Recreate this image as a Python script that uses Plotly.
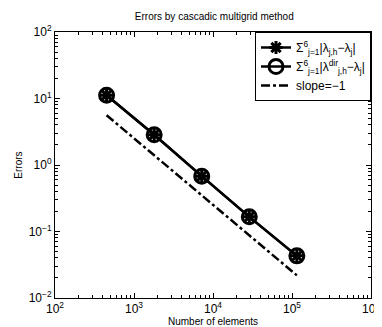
import plotly.graph_objects as go

# number of elements on each refinement level
elements = [450, 1800, 7200, 28800, 115200]
# summed eigenvalue errors (both curves coincide)
err_h = [11.2, 2.85, 0.68, 0.166, 0.043]
err_dir = [11.2, 2.85, 0.68, 0.166, 0.043]
# reference line with slope -1
slope_ref = [5.6, 1.4, 0.35, 0.0875, 0.0219]

x_ticks = [1e2, 1e3, 1e4, 1e5, 1e6]
x_labels = ["10<sup>2</sup>", "10<sup>3</sup>", "10<sup>4</sup>", "10<sup>5</sup>", "10<sup>6</sup>"]
y_ticks = [1e-2, 1e-1, 1e0, 1e1, 1e2]
y_labels = ["10<sup>−2</sup>", "10<sup>−1</sup>", "10<sup>0</sup>", "10<sup>1</sup>", "10<sup>2</sup>"]

font = "Liberation Sans, Arial, sans-serif"

fig = go.Figure()
fig.add_trace(go.Scatter(
    x=elements, y=err_h, mode="lines+markers",
    name="Σ<sup>6</sup><sub>j=1</sub>|λ<sub>j,h</sub>−λ<sub>j</sub>|",
    line=dict(color="black", width=2.5),
    marker=dict(symbol="asterisk-open", size=11, color="black",
                line=dict(color="black", width=3)),
))
fig.add_trace(go.Scatter(
    x=elements, y=err_dir, mode="lines+markers",
    name="Σ<sup>6</sup><sub>j=1</sub>|λ<sup>dir</sup><sub>j,h</sub>−λ<sub>j</sub>|",
    line=dict(color="black", width=2.5),
    marker=dict(symbol="circle-open", size=14, color="black",
                line=dict(color="black", width=3)),
))
fig.add_trace(go.Scatter(
    x=elements, y=slope_ref, mode="lines", name="slope=−1",
    line=dict(color="black", width=2.5, dash="dashdot"),
))

axis_common = dict(
    type="log", showgrid=False, zeroline=False,
    showline=True, linecolor="black", linewidth=1, mirror="ticks",
    ticks="inside", ticklen=5, tickcolor="black",
    minor=dict(ticks="inside", ticklen=3, tickcolor="black", dtick="D1", showgrid=False),
    tickfont=dict(size=12, color="black", family=font),
)

fig.update_xaxes(range=[2, 6], tickvals=x_ticks, ticktext=x_labels,
                 title=dict(text="Number of elements", font=dict(size=10, color="black"), standoff=2),
                 **axis_common)
fig.update_yaxes(range=[-2, 2], tickvals=y_ticks, ticktext=y_labels,
                 title=dict(text="Errors", font=dict(size=10, color="black"), standoff=4),
                 **axis_common)

fig.update_layout(
    width=382, height=327,
    margin=dict(l=41, r=10, t=24, b=34),
    paper_bgcolor="white", plot_bgcolor="white",
    font=dict(family=font, size=11, color="black"),
    title=dict(text="Errors by cascadic multigrid method", x=0.54, xanchor="center",
               y=0.985, yanchor="top", font=dict(size=10, color="black")),
    legend=dict(x=1, y=1, xanchor="right", yanchor="top",
                bordercolor="black", borderwidth=1, bgcolor="white",
                font=dict(size=12, color="black"), tracegroupgap=0),
    showlegend=True,
)

fig.write_html("out.html")
